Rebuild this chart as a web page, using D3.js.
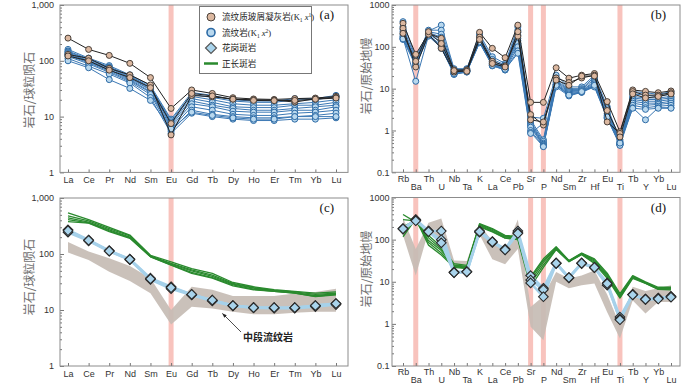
<!DOCTYPE html>
<html><head><meta charset="utf-8">
<script src="https://cdn.jsdelivr.net/npm/d3@7"></script>
<style>body{margin:0;background:#fff}svg{display:block}</style>
</head><body><svg id="chart" width="700" height="386"></svg>
<script>
// ---------- categories & ticks ----------
const reeCats = ["La","Ce","Pr","Nd","Sm","Eu","Gd","Tb","Dy","Ho","Er","Tm","Yb","Lu"];
const pmCats = ["Rb","Ba","Th","U","Nb","Ta","K","La","Ce","Pb","Sr","P","Nd","Sm","Zr","Hf","Eu","Ti","Tb","Y","Yb","Lu"];
const reeTicks = [1,10,100,1000];
const reeTickLabels = ["1","10","100","1,000"];
const pmTicks = [0.1,1,10,100,1000];
const pmTickLabels = ["0.1","1","10","100","1000"];
const reeAnomalies = ["Eu"];
const pmAnomalies = ["Ba","Sr","P","Ti"];
const panelLabels = ["(a)","(b)","(c)","(d)"];
const yTitleRee = "岩石/球粒陨石";
const yTitlePm = "岩石/原始地幔";
const legendNames = ["流纹质玻屑凝灰岩","流纹岩","花岗斑岩","正长斑岩"];
const annotation = "中段流纹岩";

// ---------- (a) chondrite-normalised REE ----------
const tuffREE = [
  [255,160,125,90,50,14,30,26,21.8,20.7,20.3,21,21.5,23],
  [130,111,73,56,37,4.7,24,22.6,20.6,20,19.8,18.2,20.9,22],
  [122,100,68,50,33,7.5,26,23.5,20.5,19.5,19.3,19.5,20.5,21.5]
];
const rhyREE = [
  [160,112,82,56,36,9,27,24,20,19,19,21,21,24],
  [150,108,78,54,34,8.5,25,22,19,18,18,20,20,23],
  [145,105,76,52,33,8,23,20,17,16,16,17,18,20],
  [140,100,74,50,31,7.5,21,18,15,14.5,14.5,16,16,18],
  [135,98,70,48,30,7,19,16,14,13,13,14,15,16],
  [130,95,68,46,28,6.5,17,15,12.5,12,12,13,13,15],
  [125,92,65,44,27,6,15,13,11,10.5,10.5,11.5,12,13],
  [120,88,62,42,25,5.5,13,11,10,9.5,9.5,10,10.5,11.5],
  [110,80,58,40,22,5,11.5,10,9,8.5,8.5,9,9,9.5],
  [100,75,46,32,19.5,6,12,10.5,9.5,9,9,10,10,10]
];
// ---------- (b) primitive-mantle-normalised ----------
const tuffPM = [
  [365,66,210,160,28,28,222,92,55,330,4.7,4.7,31.6,17.8,21,23,4.9,0.93,9.3,8.6,8,8.8],
  [277,33,200,92,25,27,170,45,35,180,2.4,1.35,18,14,18,21,1.6,0.85,8.5,7,7,8],
  [210,45,230,120,27,26,150,40,33,230,1.8,1.6,16,12,20,20,3,0.7,7.5,6,6.5,7.5]
];
const rhyPM = [
  [400,54,240,330,30,30,200,58,40,300,2.1,1.95,21,11,11,21,3.7,0.6,8.5,8,7.3,8.5],
  [300,50,250,250,28,29,180,50,37,250,1.8,0.6,18,10,10,19,3.3,0.55,7.5,7,6.5,7.5],
  [260,45,230,200,26,28,160,45,35,220,1.6,0.55,16,9.5,9.5,17,3,0.52,6.5,6,6,6.5],
  [230,42,220,170,25,27,150,42,33,190,1.5,0.5,15,9,9,15,2.8,0.5,6,5.5,5.5,6],
  [200,40,210,150,24,27,140,40,31,160,1.4,0.47,14,8.5,8.8,14,2.5,0.48,5.5,5,5,5.5],
  [180,38,200,130,23,26,135,38,30,140,1.3,0.45,13,8,8.5,13,2.3,0.47,5,4.5,4.5,5],
  [170,36,190,110,23,26,130,37,29,120,1.2,0.43,12.5,7.5,8.3,12,2.1,0.46,4.5,4,4.2,4.5],
  [160,15,185,100,22,25,128,36,28,100,1.0,0.42,12.3,7,8.2,11.5,2,0.45,4,3.5,3.8,4],
  [150,35,180,95,22,25,125,35,28,80,0.9,0.41,11,6.7,8.2,11,1.95,0.44,3.5,1.8,3.5,3.5],
  [155,38,190,92,23,26,132,36,29,70,0.85,1.5,12,7,8.5,12,2.1,0.5,3.4,3.2,3.4,3.4]
];
// ---------- (c) ----------
const bandReeUpper = [163,111,84,61,37,10,26,23,17.7,17.7,17.7,19.8,21,24];
const bandReeLower = [106,78,48,33,20,5.5,11.4,10.6,9.3,8.4,8.4,8.9,9.3,9.3];
const syeREE = [
  [540,410,300,218,95,72,55,45,31,26,23,21.5,20,21],
  [480,390,285,210,93,68,52,42,30,25,22.5,21,19,20],
  [440,370,270,200,91,66,50,40,29,24.5,22,20.5,18,19.5],
  [410,360,260,195,90,64,47,38,28,23.5,21.5,20,17.5,19],
  [380,355,250,190,89,63,45,37,27,23,21.5,20,17.4,18.6]
];
const graREE = [
  [270,178,115,81,37,26,19,15,12,11.1,11,11,12,13],
  [245,172,112,79,35,24,18.5,14.5,11.8,11,10.8,10.8,11.5,12.5],
  [260,175,113,80,36,25,19,15,12,11,11,11,12,13]
];
// ---------- (d) ----------
const bandPmUpper = [330,60,250,316,32,31,230,92,56,300,2.5,4.5,17,12,14,18.6,5,0.93,7.6,6,7,8.3];
const bandPmLower = [127,14,160,90,22,25,130,34,26,60,0.85,0.41,10,7,8.3,9.1,1.9,0.45,3.6,1.76,3.3,3.3];
const syePM = [
  [395,260,126,68,27,24.5,240,182,126,120,13,35,68,32,48,35,16,5.2,14,9.9,7.4,7.4],
  [300,280,110,60,25,23,230,175,120,115,12,32,64,31,47,33,15,4.8,13.5,9.6,7.1,7.2],
  [200,290,95,55,24,22,220,165,115,110,10.5,29,62,31,46,31,14,4.5,13,9.4,6.9,7],
  [150,300,85,48,23,21,210,158,110,105,9,25,60,30,45,29,13,4.3,12.5,9.2,6.7,6.7],
  [117,310,74,43,22,20.5,200,152,108,100,7.5,22,58,30,44,27,12,4.1,12,9.1,6.6,6.4]
];
const graPM = [
  [183,300,160,160,17,17.5,160,90,60,160,14,7,28,12.6,28,22,9.4,1.45,5,3.9,4.1,4.5],
  [178,290,158,100,16.5,17,150,86,58,145,11,6.5,27,12.3,27,21.5,8.3,1.3,5,3.8,4,4.4],
  [180,280,155,84,16.5,17.2,155,88,57,140,9.4,4.4,27.5,12.5,27.5,21.8,9,1.25,4.9,3.8,3.9,4.3]
];

// ---------- styles ----------
const C = {
  frame:"#8c8c8c", band:"#f8c3bd", gray:"#c6bcb4",
  tuffFill:"#dcb8a0", tuffStroke:"#4a4039", tuffLine:"#222",
  rhyFill:"#b9d8ee", rhyStroke:"#2c6aa5", rhyLine:"#3b78b4",
  graFill:"#a9d4ec", graStroke:"#2a2a2a", graLine:"#a6d1ea",
  green:"#2a8a2e", text:"#333"
};
const svg = d3.select("#chart");
const diamond = "M0,-4.8L4.8,0L0,4.8L-4.8,0Z";

function makePanel(o){
  const g = svg.append("g");
  const x = d3.scalePoint().domain(o.cats).range([o.cx0,o.cx1]);
  const y = d3.scaleLog().domain(o.ydom).range([o.y1,o.y0]);
  o.anoms.forEach(c=>g.append("rect").attr("x",x(c)-2.5).attr("y",o.y0).attr("width",5)
    .attr("height",o.y1-o.y0).attr("fill",C.band));
  const minor=[]; for(let e=Math.log10(o.ydom[0]); e<Math.log10(o.ydom[1]); e++){for(let k=2;k<10;k++) minor.push(k*Math.pow(10,e));}
  const gy = g.append("g").attr("transform",`translate(${o.x0},0)`)
    .call(d3.axisLeft(y).tickValues(o.ticks).tickFormat((d,i)=>o.tickLabels[i]).tickSize(-4).tickPadding(o.ypad));
  const gy2 = g.append("g").attr("transform",`translate(${o.x0},0)`)
    .call(d3.axisLeft(y).tickValues(minor).tickFormat("").tickSize(-2));
  const gx = g.append("g").attr("transform",`translate(0,${o.y1})`)
    .call(d3.axisBottom(x).tickSize(-3).tickPadding(o.alt?3:4.5));
  if(o.alt) gx.selectAll(".tick text").attr("dy",(d,i)=> i%2? "1.58em":"0.71em");
  [gy,gy2,gx].forEach(a=>{a.select(".domain").remove(); a.selectAll("line").attr("stroke","#777");
    a.selectAll("text").attr("fill",C.text).style("font-family","'Liberation Sans',Arial,sans-serif").style("font-size","9px");});
  g.append("rect").attr("x",o.x0).attr("y",o.y0).attr("width",o.x1-o.x0).attr("height",o.y1-o.y0)
    .attr("fill","none").attr("stroke",C.frame).attr("stroke-width",1);
  g.append("text").attr("transform",`translate(${o.tx},${o.ty}) rotate(-90)`).attr("text-anchor","middle")
    .attr("dy","0.35em").attr("fill","#6e6e6e").style("font-family","'Noto Sans CJK SC',sans-serif")
    .style("font-size","12px").text(o.title);
  g.append("text").attr("x",o.x1-14).attr("y",o.y0+14).attr("text-anchor","end").attr("fill","#111")
    .style("font-family","'Liberation Serif',serif").style("font-size","13px").text(o.label);
  const line = d3.line().x((d,i)=>x(o.cats[i])).y(d=>y(d));
  return {g,x,y,line,cats:o.cats};
}
function drawLines(P, rows, color, w){
  const lg = P.g.append("g");
  rows.forEach(r=>lg.append("path").attr("d",P.line(r)).attr("fill","none").attr("stroke",color).attr("stroke-width",w).attr("stroke-linejoin","round"));
}
function drawCircles(P, rows, fill, stroke){
  const mg = P.g.append("g");
  rows.forEach(r=>r.forEach((v,i)=>mg.append("circle").attr("cx",P.x(P.cats[i])).attr("cy",P.y(v)).attr("r",3)
    .attr("fill",fill).attr("stroke",stroke).attr("stroke-width",1)));
}
function drawDiamonds(P, rows){
  const mg = P.g.append("g");
  rows.forEach(r=>r.forEach((v,i)=>mg.append("path").attr("d",diamond)
    .attr("transform",`translate(${P.x(P.cats[i])},${P.y(v)})`).attr("fill",C.graFill).attr("stroke",C.graStroke).attr("stroke-width",1.1)));
}
function drawBand(P, up, lo){
  const area = d3.area().x((d,i)=>P.x(P.cats[i])).y0((d,i)=>P.y(lo[i])).y1(d=>P.y(d));
  P.g.append("path").attr("d",area(up)).attr("fill",C.gray).attr("opacity",0.92);
}

const A = makePanel({cats:reeCats,cx0:68,cx1:336,x0:60,x1:348,y0:5,y1:172.4,ydom:[1,1000],ticks:reeTicks,tickLabels:reeTickLabels,
  ypad:6,anoms:reeAnomalies,title:yTitleRee,tx:30,ty:90,label:panelLabels[0]});
drawLines(A, rhyREE, C.rhyLine, 1);
drawCircles(A, rhyREE, C.rhyFill, C.rhyStroke);
drawLines(A, tuffREE, C.tuffLine, 1);
drawCircles(A, tuffREE, C.tuffFill, C.tuffStroke);

const B = makePanel({cats:pmCats,cx0:403,cx1:671,x0:392,x1:680,y0:5,y1:172.3,ydom:[0.1,1000],ticks:pmTicks,tickLabels:pmTickLabels,
  ypad:2.5,anoms:pmAnomalies,alt:true,title:yTitlePm,tx:367,ty:76,label:panelLabels[1]});
drawLines(B, rhyPM, C.rhyLine, 1);
drawCircles(B, rhyPM, C.rhyFill, C.rhyStroke);
drawLines(B, tuffPM, C.tuffLine, 1);
drawCircles(B, tuffPM, C.tuffFill, C.tuffStroke);

const Cc = makePanel({cats:reeCats,cx0:68,cx1:336,x0:60,x1:348,y0:198,y1:366,ydom:[1,1000],ticks:reeTicks,tickLabels:reeTickLabels,
  ypad:6,anoms:reeAnomalies,title:yTitleRee,tx:30,ty:277,label:panelLabels[2]});
drawBand(Cc, bandReeUpper, bandReeLower);
drawLines(Cc, syeREE, C.green, 1.3);
drawLines(Cc, graREE, C.graLine, 2.6);
drawDiamonds(Cc, graREE);
Cc.g.append("defs").append("marker").attr("id","ah").attr("viewBox","0 0 10 10").attr("refX",9).attr("refY",5)
  .attr("markerWidth",6).attr("markerHeight",6).attr("orient","auto")
  .append("path").attr("d","M0,1.5L10,5L0,8.5Z").attr("fill","#222");
Cc.g.append("line").attr("x1",241).attr("y1",332).attr("x2",222.5).attr("y2",313.5).attr("stroke","#222")
  .attr("stroke-width",0.8).attr("marker-end","url(#ah)");
Cc.g.append("text").attr("x",243).attr("y",340.5).attr("fill","#222").style("font-family","'Noto Sans CJK SC',sans-serif")
  .style("font-size","10px").style("font-weight","bold").text(annotation);

const D = makePanel({cats:pmCats,cx0:403,cx1:671,x0:392,x1:680,y0:197.5,y1:366,ydom:[0.1,1000],ticks:pmTicks,tickLabels:pmTickLabels,
  ypad:2.5,anoms:pmAnomalies,alt:true,title:yTitlePm,tx:367,ty:269,label:panelLabels[3]});
drawBand(D, bandPmUpper, bandPmLower);
drawLines(D, syePM, C.green, 1.3);
drawLines(D, graPM, C.graLine, 2.6);
drawDiamonds(D, graPM);

// ---------- legend ----------
const L = svg.append("g");
L.append("rect").attr("x",199.5).attr("y",6.5).attr("width",112).attr("height",67).attr("fill","#fff").attr("stroke","#777");
const ly = [17,32.5,48,63.5];
L.append("circle").attr("cx",211).attr("cy",ly[0]).attr("r",4).attr("fill",C.tuffFill).attr("stroke",C.tuffStroke);
L.append("circle").attr("cx",211).attr("cy",ly[1]).attr("r",4).attr("fill",C.rhyFill).attr("stroke",C.rhyStroke).attr("stroke-width",1.6);
L.append("path").attr("d",diamond).attr("transform",`translate(211,${ly[2]}) scale(1.15)`).attr("fill",C.graFill).attr("stroke","#555");
L.append("line").attr("x1",204).attr("x2",218).attr("y1",ly[3]).attr("y2",ly[3]).attr("stroke",C.green).attr("stroke-width",2.5);
const subs = [["1","1"],["1","2"],null,null];
legendNames.forEach((n,i)=>{
  const t = L.append("text").attr("x",222).attr("y",ly[i]).attr("dy","0.35em").attr("fill","#222")
    .style("font-family","'Noto Sans CJK SC',sans-serif").style("font-size","8.6px");
  t.append("tspan").text(n);
  if(subs[i]){
    t.append("tspan").style("font-family","'Liberation Serif',serif").text("(K");
    t.append("tspan").attr("dy","2").style("font-size","5.5px").style("font-family","'Liberation Serif',serif").text(subs[i][0]);
    t.append("tspan").attr("dy","-2").style("font-family","'Liberation Serif',serif").style("font-style","italic").text(" x");
    t.append("tspan").attr("dy","-3").style("font-size","5.5px").style("font-family","'Liberation Serif',serif").text(subs[i][1]);
    t.append("tspan").attr("dy","3").style("font-family","'Liberation Serif',serif").text(")");
  }
});
</script></body></html>
